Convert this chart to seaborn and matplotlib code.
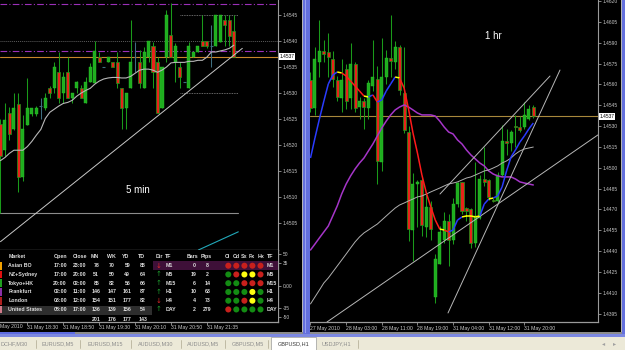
import numpy as np
import matplotlib
matplotlib.use("Agg")
import matplotlib.pyplot as plt
import matplotlib.transforms as mtransforms
from matplotlib.patches import Rectangle
from matplotlib.collections import LineCollection
import seaborn as sns

W, H = 625, 350

# ---------------- 5 min chart (GBPUSD,M5) ----------------
m5_open = [1.45240, 1.45190, 1.45261, 1.45230, 1.45278, 1.45139, 1.45238, 1.45259, 1.45259, 1.45276,
           1.45271, 1.45309, 1.45309, 1.45340, 1.45300, 1.45340, 1.45290, 1.45309, 1.45309, 1.45280,
           1.45321, 1.45319, 1.45369, 1.45350, 1.45359, 1.45359, 1.45359, 1.45309, 1.45271, 1.45309,
           1.45369, 1.45359, 1.45309, 1.45369, 1.45390, 1.45359, 1.45271, 1.45369, 1.45412, 1.45359,
           1.45350, 1.45321, 1.45309, 1.45369, 1.45379, 1.45400, 1.45400, 1.45390, 1.45390, 1.45398,
           1.45441, 1.45441, 1.45419]
m5_high = [1.45251, 1.45280, 1.45273, 1.45300, 1.45300, 1.45257, 1.45329, 1.45271, 1.45275, 1.45290,
           1.45300, 1.45313, 1.45359, 1.45379, 1.45340, 1.45369, 1.45300, 1.45323, 1.45315, 1.45331,
           1.45358, 1.45400, 1.45379, 1.45350, 1.45369, 1.45359, 1.45379, 1.45309, 1.45300, 1.45441,
           1.45398, 1.45383, 1.45388, 1.45400, 1.45398, 1.45369, 1.45350, 1.45460, 1.45473, 1.45396,
           1.45359, 1.45321, 1.45398, 1.45379, 1.45390, 1.45450, 1.45400, 1.45431, 1.45450, 1.45450,
           1.45450, 1.45450, 1.45450]
m5_low = [1.45070, 1.45178, 1.45209, 1.45228, 1.45109, 1.45130, 1.45238, 1.45255, 1.45255, 1.45251,
          1.45267, 1.45290, 1.45300, 1.45280, 1.45280, 1.45290, 1.45280, 1.45300, 1.45290, 1.45280,
          1.45321, 1.45319, 1.45359, 1.45350, 1.45359, 1.45350, 1.45309, 1.45230, 1.45230, 1.45309,
          1.45340, 1.45309, 1.45309, 1.45359, 1.45309, 1.45261, 1.45271, 1.45359, 1.45369, 1.45321,
          1.45309, 1.45321, 1.45309, 1.45369, 1.45379, 1.45390, 1.45386, 1.45350, 1.45390, 1.45398,
          1.45390, 1.45390, 1.45369]
m5_close = [1.45178, 1.45249, 1.45222, 1.45271, 1.45139, 1.45230, 1.45271, 1.45271, 1.45271, 1.45276,
            1.45290, 1.45300, 1.45350, 1.45290, 1.45331, 1.45290, 1.45300, 1.45321, 1.45290, 1.45321,
            1.45350, 1.45381, 1.45359, 1.45350, 1.45369, 1.45350, 1.45319, 1.45271, 1.45300, 1.45359,
            1.45369, 1.45319, 1.45379, 1.45400, 1.45340, 1.45261, 1.45350, 1.45450, 1.45369, 1.45390,
            1.45331, 1.45321, 1.45390, 1.45379, 1.45390, 1.45390, 1.45390, 1.45390, 1.45450, 1.45450,
            1.45431, 1.45410, 1.45370]
m5_ma = [1.45170, 1.45176, 1.45184, 1.45190, 1.45190, 1.45190, 1.45197, 1.45207, 1.45219, 1.45230,
         1.45251, 1.45263, 1.45269, 1.45275, 1.45280, 1.45282, 1.45286, 1.45294, 1.45300, 1.45305,
         1.45309, 1.45317, 1.45323, 1.45327, 1.45329, 1.45330, 1.45330, 1.45329, 1.45329, 1.45332,
         1.45338, 1.45344, 1.45346, 1.45346, 1.45344, 1.45340, 1.45344, 1.45350, 1.45358, 1.45359,
         1.45359, 1.45359, 1.45361, 1.45361, 1.45363, 1.45363, 1.45369, 1.45379, 1.45379, 1.45381,
         1.45383, 1.45386, 1.45392]
m5_yticks = [1.4505, 1.4510, 1.4515, 1.4520, 1.4525, 1.4530, 1.4535, 1.4540, 1.4545]
m5_xtick_idx = [6, 14, 22, 30, 38, 46]
m5_xtick_labels = ["31 May 18:30", "31 May 18:50", "31 May 19:30",
                   "31 May 20:10", "31 May 20:50", "31 May 21:35"]
m5_first_label = "May 2010"
m5_bid = 1.4537
m5_pivots = [1.45471, 1.45381]          # purple dash-dot levels
m5_dotted_level = 1.4540
m5_box_levels = [1.45450, 1.45300]       # short dotted range lines
m5_box_span = [40.1, 53.0]
m5_trend = ([0.0, 53.9], [1.45014, 1.45386])
m5_flat = ([-0.5, 53.0], [1.45070, 1.45070])
m5_teal = ([44.1, 53.0], [1.44998, 1.45033])
sub_levels = [50, 35, 0, -35, -50]
sub_labels = ["50", "35", "0.00", "-35", "-50"]

# ---------------- 1 hr chart (GBPUSD,H1) ----------------
h1_open = [1.4563, 1.4543, 1.4576, 1.4584, 1.4583, 1.4578, 1.4563, 1.4550, 1.4571, 1.4550,
           1.4575, 1.4544, 1.4548, 1.4543, 1.4559, 1.4564, 1.4504, 1.4565, 1.4579, 1.4576,
           1.4587, 1.4554, 1.4526, 1.4455, 1.4488, 1.4491, 1.4457, 1.4472, 1.4407, 1.4431,
           1.4448, 1.4462, 1.4448, 1.4474, 1.4490, 1.4471, 1.4470, 1.4446, 1.4464, 1.4492,
           1.4491, 1.4477, 1.4476, 1.4495, 1.4519, 1.4518, 1.4530, 1.4529, 1.4529, 1.4535, 1.4544]
h1_high = [1.4569, 1.4587, 1.4606, 1.4592, 1.4597, 1.4584, 1.4566, 1.4578, 1.4575, 1.4590,
           1.4576, 1.4551, 1.4550, 1.4563, 1.4592, 1.4573, 1.4593, 1.4585, 1.4610, 1.4591,
           1.4588, 1.4587, 1.4530, 1.4496, 1.4491, 1.4494, 1.4482, 1.4476, 1.4438, 1.4458,
           1.4468, 1.4467, 1.4478, 1.4490, 1.4490, 1.4472, 1.4471, 1.4504, 1.4495, 1.4515,
           1.4492, 1.4478, 1.4497, 1.4531, 1.4528, 1.4527, 1.4538, 1.4537, 1.4547, 1.4545, 1.4545]
h1_low = [1.4540, 1.4538, 1.4565, 1.4576, 1.4565, 1.4558, 1.4548, 1.4540, 1.4542, 1.4542,
          1.4540, 1.4535, 1.4528, 1.4535, 1.4555, 1.4488, 1.4498, 1.4560, 1.4565, 1.4571,
          1.4552, 1.4525, 1.4447, 1.4433, 1.4457, 1.4451, 1.4450, 1.4448, 1.4403, 1.4431,
          1.4446, 1.4429, 1.4445, 1.4472, 1.4467, 1.4462, 1.4442, 1.4443, 1.4463, 1.4487,
          1.4477, 1.4475, 1.4475, 1.4494, 1.4509, 1.4512, 1.4515, 1.4526, 1.4528, 1.4534, 1.4536]
h1_close = [1.4543, 1.4578, 1.4584, 1.4582, 1.4580, 1.4564, 1.4551, 1.4563, 1.4548, 1.4575,
            1.4543, 1.4548, 1.4544, 1.4561, 1.4565, 1.4505, 1.4565, 1.4579, 1.4577, 1.4587,
            1.4556, 1.4527, 1.4456, 1.4488, 1.4490, 1.4459, 1.4472, 1.4456, 1.4434, 1.4454,
            1.4462, 1.4448, 1.4474, 1.4489, 1.4469, 1.4469, 1.4446, 1.4465, 1.4492, 1.4490,
            1.4479, 1.4476, 1.4495, 1.4519, 1.4518, 1.4526, 1.4529, 1.4527, 1.4538, 1.4542, 1.4537]
h1_fast = [1.45070, 1.45214, 1.45351, 1.45480, 1.45603, 1.45667, 1.45689, 1.45682, 1.45660, 1.45624,
           1.45588, 1.45552, 1.45516, 1.45509, 1.45524, 1.45473, 1.45488, 1.45552, 1.45603, 1.45653,
           1.45646, 1.45574, 1.45423, 1.45250, 1.45106, 1.44948, 1.44818, 1.44718, 1.44624, 1.44559,
           1.44552, 1.44538, 1.44552, 1.44624, 1.44646, 1.44653, 1.44653, 1.44646, 1.44653, 1.44739,
           1.44775, 1.44782, 1.44797, 1.44862, 1.44977, 1.45077, 1.45128, 1.45185, 1.45229, 1.45279, 1.45322]
h1_slow = [1.44408, 1.44451, 1.44495, 1.44538, 1.44581, 1.44653, 1.44725, 1.44811, 1.44883, 1.44941,
           1.44991, 1.45034, 1.45070, 1.45121, 1.45171, 1.45229, 1.45286, 1.45336, 1.45380, 1.45416,
           1.45437, 1.45452, 1.45437, 1.45416, 1.45394, 1.45380, 1.45380, 1.45380, 1.45372, 1.45336,
           1.45293, 1.45257, 1.45243, 1.45200, 1.45171, 1.45128, 1.45092, 1.45063, 1.45034, 1.45013,
           1.44977, 1.44955, 1.44941, 1.44934, 1.44934, 1.44934, 1.44919, 1.44898, 1.44890, 1.44883, 1.44876]
h1_mid = [1.44020, 1.44070, 1.44120, 1.44171, 1.44207, 1.44250, 1.44293, 1.44336, 1.44379, 1.44423,
          1.44466, 1.44502, 1.44531, 1.44552, 1.44574, 1.44595, 1.44624, 1.44653, 1.44682, 1.44710,
          1.44732, 1.44746, 1.44761, 1.44775, 1.44790, 1.44797, 1.44811, 1.44826, 1.44840, 1.44854,
          1.44869, 1.44883, 1.44890, 1.44898, 1.44912, 1.44926, 1.44934, 1.44948, 1.44962, 1.44977,
          1.44984, 1.44998, 1.45013, 1.45034, 1.45049, 1.45070, 1.45099, 1.45121, 1.45135, 1.45142, 1.45149]
h1_trendlines = [([3.70, 64.5], [1.43890, 1.45236]),
                 ([29.06, 53.75], [1.44811, 1.45660]),
                 ([30.86, 55.99], [1.43955, 1.45703])]
h1_yticks = [1.4395, 1.4410, 1.4425, 1.4440, 1.4455, 1.4470, 1.4485, 1.4500,
             1.4515, 1.4530, 1.4545, 1.4560, 1.4575, 1.4590, 1.4605, 1.4620]
h1_xtick_idx = [0, 8, 16, 24, 32, 40, 48]
h1_xtick_labels = ["27 May 2010", "28 May 03:00", "28 May 11:00", "28 May 19:00",
                   "31 May 04:00", "31 May 12:00", "31 May 20:00"]
h1_bid = 1.4537

# ---------------- session table ----------------
markets = ["Asian BO", "NZ+Sydney", "Tokyo+HK", "Frankfurt", "London", "United States"]
open_t = ["17:00", "17:00", "20:00", "02:00", "03:00", "08:00"]
close_t = ["23:00", "20:00", "02:00", "11:00", "12:00", "17:00"]
mn = [78, 51, 85, 146, 154, 136]
wk = [70, 50, 82, 147, 151, 139]
yd = [59, 49, 56, 161, 177, 156]
td = [88, 64, 66, 87, 82, 54]
totals = [201, 176, 177, 143]
tfs = ["M1", "M5", "M15", "H1", "H4", "DAY"]
tf_dir = [-1, 1, 1, 1, -1, 1]
tf_bars = [0, 19, 6, 10, 4, 2]
tf_pips = [8, 2, 14, 63, 73, 279]
sig_cols = ["Cl", "Cd", "Sx", "Fx", "Hx"]
signals = [["r", "r", "r", "r", "r"],
           ["g", "r", "y", "y", "r"],
           ["g", "g", "r", "r", "r"],
           ["g", "g", "g", "y", "g"],
           ["g", "g", "r", "y", "g"],
           ["r", "g", "g", "g", "g"]]
tabs = ["DCHF,M30", "EURUSD,M5", "EURUSD,M15", "AUDUSD,M30", "AUDUSD,M5",
        "GBPUSD,M5", "GBPUSD,H1", "USDJPY,H1"]
active_tab = "GBPUSD,H1"

# ---------------- styling ----------------
sns.set_theme(style="dark", rc={"axes.facecolor": "black", "figure.facecolor": "black"})
plt.rcParams['font.family'] = ['Liberation Sans', 'DejaVu Sans']

GREEN = "#1fae1f"
WICK = "#1a9a1a"
RED = "#e8231a"
SLATE = "#3f6f80"
AXC = "#9a9a9a"
LBL = "#c8c8c8"

fig = plt.figure(figsize=(W / 100, H / 100), dpi=100)
fig.patch.set_facecolor("black")


def px_axes(x0, y0, x1, y1):
    return fig.add_axes([x0 / W, 1 - y1 / H, (x1 - x0) / W, (y1 - y0) / H])


def draw_candles(ax, o, h, l, c, width=0.68):
    o, h, l, c = map(np.asarray, (o, h, l, c))
    idx = np.arange(len(o))
    up, dn, dj = c > o, c < o, c == o
    ax.vlines(idx[~dj], l[~dj], h[~dj], color=WICK, lw=0.75, zorder=2)
    ax.vlines(idx[dj], l[dj], h[dj], color=SLATE, lw=0.75, zorder=2)
    ax.hlines(o[dj], idx[dj] - 0.3, idx[dj] + 0.3, color=SLATE, lw=0.8, zorder=2)
    ax.bar(idx[up], c[up] - o[up], width=width, bottom=o[up], color=GREEN,
           edgecolor="#2bc42b", lw=0.3, zorder=3)
    ax.bar(idx[dn], o[dn] - c[dn], width=width, bottom=c[dn], color=RED,
           edgecolor=WICK, lw=0.5, zorder=3)


def price_axis(ax, ylim, yticks, xlim):
    ax.set_facecolor("black")
    ax.grid(False)
    ax.set_xlim(*xlim)
    ax.set_ylim(*ylim)
    for s in ["top", "left", "bottom"]:
        ax.spines[s].set_visible(False)
    ax.spines["right"].set_color(AXC)
    ax.spines["right"].set_linewidth(0.8)
    ax.yaxis.tick_right()
    ax.set_yticks(yticks)
    ax.set_yticklabels([f"{v:.4f}" for v in yticks])
    ax.tick_params(axis="y", colors=AXC, labelcolor=LBL, labelsize=3.5,
                   length=2, width=0.6, pad=1.5, right=True, left=False)
    ax.set_xticks([])


def bid_box(ax, price):
    tr = mtransforms.blended_transform_factory(ax.transAxes, ax.transData)
    ax.text(1.006, price, f"{price:.4f}", transform=tr, fontsize=3.5, color="black",
            va="center", ha="left", zorder=6, clip_on=False,
            bbox=dict(boxstyle="square,pad=0.15", fc="white", ec="none"))


# ---------- left: 5 min ----------
ax5 = px_axes(0, 0, 278, 249.5)
price_axis(ax5, (1.44999, 1.45479), m5_yticks, (-0.1, 61.85))
for lv in m5_pivots:
    ax5.axhline(lv, color="#9b30b8", lw=0.8, ls=(0, (6, 2, 1, 2)), zorder=1)
ax5.axhline(m5_dotted_level, color="#5c5c5c", lw=0.7, ls=(0, (1, 1)), zorder=1)
for lv in m5_box_levels:
    ax5.hlines(lv, *m5_box_span, color="#8a8a8a", lw=0.6, ls=(0, (1, 1)), zorder=1)
ax5.plot(*m5_trend, color="#c8c8c8", lw=0.7, zorder=4)
ax5.plot(*m5_flat, color="#8c8c8c", lw=0.8, zorder=1)
ax5.plot(*m5_teal, color="#22a9ba", lw=0.8, zorder=1)
ax5.axhline(m5_bid, color="#c8862a", lw=0.8, zorder=1)
draw_candles(ax5, m5_open, m5_high, m5_low, m5_close)
sns.lineplot(x=np.arange(len(m5_ma)), y=m5_ma, ax=ax5, color="#b8b8b8", lw=0.8, zorder=4)
ax5.set_xlabel(""); ax5.set_ylabel("")
bid_box(ax5, m5_bid)
ax5.text(0.497, 0.24, "5 min", transform=ax5.transAxes, color="white", fontsize=7,
         ha="center", va="center")

# indicator subwindow (under the table)
axs = px_axes(0, 249.5, 278, 321.5)
axs.set_facecolor("black")
axs.grid(False)
axs.set_xlim(-0.1, 61.85)
axs.set_ylim(-57.1, 57.1)
axs.spines["left"].set_visible(False)
for s in ["right", "bottom", "top"]:
    axs.spines[s].set_color(AXC)
    axs.spines[s].set_linewidth(0.9)
axs.yaxis.tick_right()
axs.set_yticks(sub_levels)
axs.set_yticklabels(sub_labels)
axs.tick_params(axis="y", colors=AXC, labelcolor=LBL, labelsize=3.5, length=2,
                width=0.6, pad=1.5, left=False, right=True)
axs.set_xticks(m5_xtick_idx)
axs.set_xticklabels(m5_xtick_labels, ha="left")
axs.tick_params(axis="x", colors=AXC, labelcolor=LBL, labelsize=3.7, length=2,
                width=0.6, pad=0.8, bottom=True)

# ---------- right: 1 hr ----------
axh = px_axes(310, 0, 598, 322)
price_axis(axh, (1.43890, 1.46207), h1_yticks, (-0.11, 64.52))
axh.spines["bottom"].set_visible(True)
axh.spines["bottom"].set_color(AXC)
axh.spines["bottom"].set_linewidth(0.9)
axh.set_xticks(h1_xtick_idx)
axh.set_xticklabels(h1_xtick_labels, ha="left")
axh.tick_params(axis="x", colors=AXC, labelcolor=LBL, labelsize=3.7, length=2,
                width=0.6, pad=0.8, bottom=True)
axh.axhline(h1_bid, color="#a8883c", lw=0.8, zorder=1)
draw_candles(axh, h1_open, h1_high, h1_low, h1_close)
hx = np.arange(len(h1_fast))
sns.lineplot(x=hx, y=h1_slow, ax=axh, color="#a535c8", lw=1.1, zorder=4)
sns.lineplot(x=hx, y=h1_mid, ax=axh, color="#b0b0b0", lw=0.7, zorder=4)
for xs, ys in h1_trendlines:
    axh.plot(xs, ys, color="#b8b8b8", lw=0.7, zorder=4)
fast = np.asarray(h1_fast)
segs = [[(hx[i], fast[i]), (hx[i + 1], fast[i + 1])] for i in range(len(hx) - 1)]
dif = np.diff(fast)
seg_cols = ["#2a3cff" if d > 0.00012 else ("#ff1a1a" if d < -0.00012 else "#ffff00") for d in dif]
axh.add_collection(LineCollection(segs, colors=seg_cols, linewidths=1.1, zorder=5))
axh.set_xlabel(""); axh.set_ylabel("")
bid_box(axh, h1_bid)
axh.text(0.635, 0.888, "1 hr", transform=axh.transAxes, color="white", fontsize=7,
         ha="center", va="center")

# ---------- overlay (table, frames, tabs) in pixel coordinates ----------
ov = fig.add_axes([0, 0, 1, 1])
ov.set_xlim(0, W)
ov.set_ylim(H, 0)
ov.axis("off")
ov.patch.set_alpha(0)

# table background
ov.add_patch(Rectangle((0, 250.2), 277.6, 70.8, fc="black", ec="none", zorder=1))
ov.add_patch(Rectangle((152.7, 261.3), 125, 8.8, fc="#3e1038", ec="none", zorder=1))
ov.add_patch(Rectangle((0, 305.8), 152, 9.2, fc="#2e2e2e", ec="none", zorder=1))

TXT = "#dedede"
tkw = dict(fontsize=3.8, fontweight="bold", color=TXT, va="center", zorder=3)
hy = 256.9
head = [("Market", 8.3), ("Open", 53.3), ("Close", 72.7), ("MN", 90.7), ("WK", 106.7),
        ("YD", 122.3), ("TD", 137.7), ("Dir", 155.7), ("TF", 164.5), ("Bars", 186.8),
        ("Pips", 201.0), ("TF", 266.7)]
for s, x in head:
    ov.text(x, hy, s, ha="left", **tkw)
sig_x = [228.3, 236.3, 244.4, 252.4, 260.5]
for s, x in zip(sig_cols, sig_x):
    ov.text(x - 3.3, hy, s, ha="left", **tkw)

row_y = [265.7 + 8.75 * k for k in range(6)]
row_mark = ["#f0a000", "#e01010", "#20a020", "#8a30a8", "#b02020", "#d07a8a"]
for k, y in enumerate(row_y):
    ov.add_patch(Rectangle((0, y - 3.8), 2.3, 7.6, fc=row_mark[k], ec="none", zorder=2))
    ov.text(8.3, y, markets[k], ha="left", **tkw)
    ov.text(53.3, y, open_t[k], ha="left", **tkw)
    ov.text(72.7, y, close_t[k], ha="left", **tkw)
    for val, cx in zip((mn[k], wk[k], yd[k], td[k]), (96.2, 111.8, 127.3, 142.7)):
        ov.text(cx, y, str(val), ha="center", **tkw)
    up = tf_dir[k] > 0
    ov.text(158.6, y, "↑" if up else "↓", ha="center", va="center",
            color="#1f9f2f" if up else "#e02828", fontsize=5.0, zorder=3,
            family=["DejaVu Sans"])
    ov.text(165.7, y, tfs[k], ha="left", **tkw)
    ov.text(194.0, y, str(tf_bars[k]), ha="center", **tkw)
    ov.text(207.5, y, str(tf_pips[k]), ha="center", **tkw)
    ov.text(266.7, y, tfs[k], ha="left", **tkw)
for val, cx in zip(totals, (96.2, 111.8, 127.3, 142.7)):
    ov.text(cx, 319.4, str(val), ha="center", **tkw)

dot_x, dot_y, dot_c = [], [], []
for k, y in enumerate(row_y):
    for j, x in enumerate(sig_x):
        dot_x.append(x); dot_y.append(y); dot_c.append(signals[k][j])
sns.scatterplot(x=dot_x, y=dot_y, hue=dot_c, ax=ov, legend=False, s=19, linewidth=0,
                palette={"r": "#c8201c", "g": "#138c13", "y": "#ffff10"}, zorder=3)
ov.set_xlim(0, W); ov.set_ylim(H, 0)

ov.text(0.5, 326.6, m5_first_label, ha="left", va="center", color=LBL, fontsize=3.7, zorder=3)

# window frames
BLUE = "#6470dc"
ov.add_patch(Rectangle((301.5, 0), 1.2, 333, fc="#b4b4b4", ec="none", zorder=2))
ov.add_patch(Rectangle((303, 0), 7, 337, fc=BLUE, ec="none", zorder=2))
ov.add_patch(Rectangle((305, 0), 0.8, 333, fc="#98a0f0", ec="none", zorder=2))
ov.add_patch(Rectangle((620.5, 0), 1.2, 333, fc="#b4b4b4", ec="none", zorder=2))
ov.add_patch(Rectangle((622, 0), 3, 337, fc=BLUE, ec="none", zorder=2))
ov.add_patch(Rectangle((0, 332.3), 303, 1.4, fc="#8c8c8c", ec="none", zorder=2))
ov.add_patch(Rectangle((0, 332.3), 75, 1.4, fc="#5d6be0", ec="none", zorder=2))
ov.add_patch(Rectangle((310, 332.3), 312, 1.4, fc="#8c8c8c", ec="none", zorder=2))
ov.add_patch(Rectangle((0, 333.7), W, 3.3, fc="#7c88e2", ec="none", zorder=2))

# tab bar
ov.add_patch(Rectangle((0, 337), W, 13, fc="#ece9d8", ec="none", zorder=2))
tab_x = [0.5, 42, 88, 138, 187, 232, 276, 322]
sep_x = [36, 80, 131, 181, 225, 268, 358]
for sx in sep_x:
    ov.plot([sx, sx], [339.5, 348], color="#b8b39c", lw=0.6, zorder=3)
for name, x in zip(tabs, tab_x):
    if name == active_tab:
        ov.add_patch(Rectangle((271, 337.2), 45, 12.8, fc="white", ec="#9a9a9a", lw=0.5, zorder=3))
        ov.text(293.5, 343.8, name, ha="center", va="center", color="#3a3a3a", fontsize=4.0, zorder=4)
    else:
        ov.text(x, 343.8, name, ha="left", va="center", color="#8c8c8c", fontsize=4.0, zorder=4)
ov.text(604, 343.8, "◂", ha="center", va="center", color="#a0a0a0", fontsize=4.5,
        family=["DejaVu Sans"], zorder=4)
ov.text(615, 343.8, "▸", ha="center", va="center", color="#a0a0a0", fontsize=4.5,
        family=["DejaVu Sans"], zorder=4)

fig.savefig("out.png", dpi=100, facecolor=fig.get_facecolor())
